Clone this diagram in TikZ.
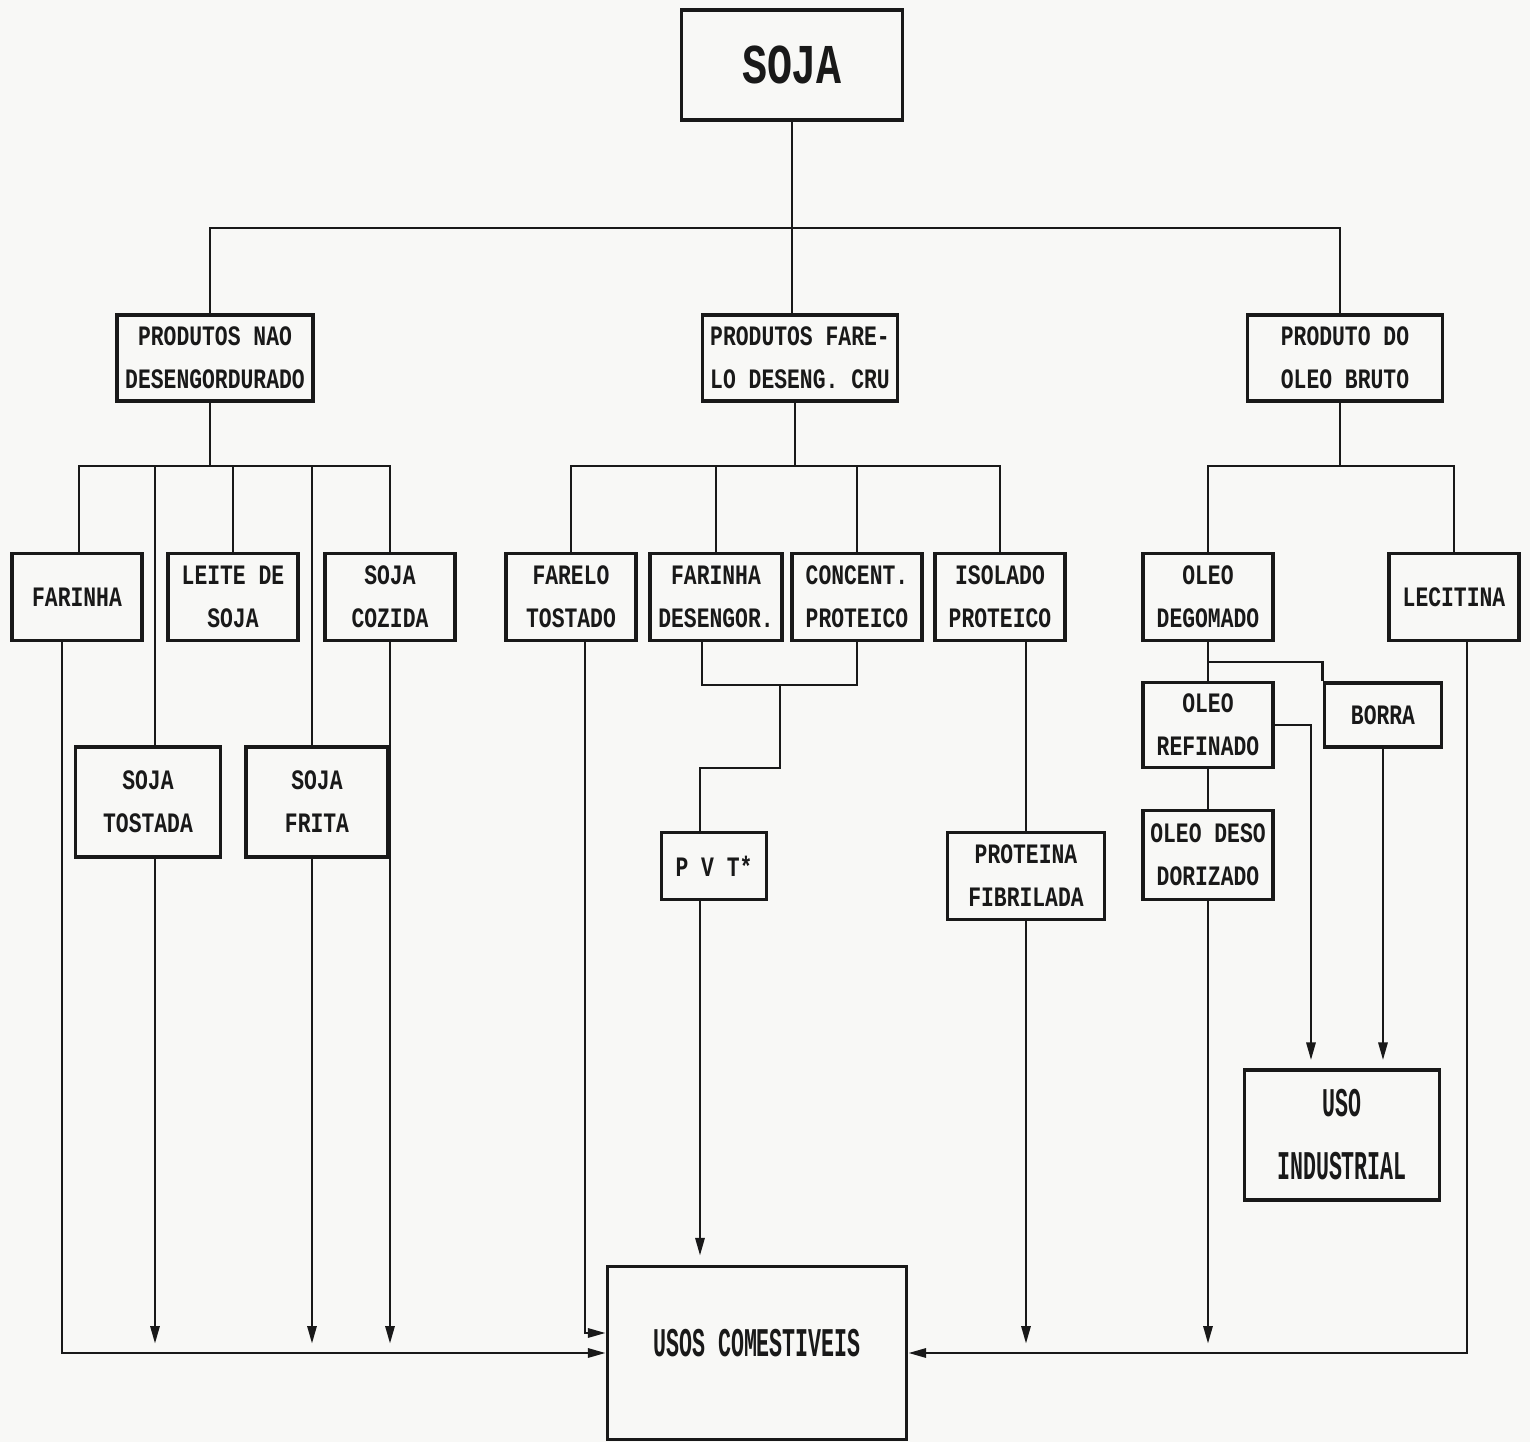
\documentclass[tikz,border=0pt]{standalone}
\usepackage{fontspec}
\newfontfamily\dotfont[FakeStretch=0.76]{Liberation Mono}
\newfontfamily\tallfont[FakeStretch=0.53]{Liberation Mono}
\newfontfamily\bigfont[FakeStretch=0.74]{Liberation Mono}
\usetikzlibrary{arrows.meta, positioning}
\definecolor{paper}{RGB}{248,248,246}
\definecolor{ink}{RGB}{25,25,25}

\begin{document}
\begin{tikzpicture}
    [
        x=0.1mm, y=-0.1mm,
        prod/.style={rectangle, draw=ink, line width=0.9pt, inner sep=0pt, minimum width=13mm, minimum height=8.7mm, align=center, text=ink, font=\dotfont\bfseries\fontsize{8pt}{12.2pt}\selectfont},
        use/.style={prod, font=\tallfont\bfseries\fontsize{11.6pt}{17.9pt}\selectfont},
        link/.style={draw=ink, line width=0.85pt},
        flow/.style={link, -{Triangle[length=1.8mm, width=0.9mm]}},
    ]
    \fill[paper] (0,0) rectangle (1530,1442);

    % top
    \node[prod, minimum width=22.1mm, minimum height=11mm, font=\bigfont\bfseries\fontsize{16pt}{18pt}\selectfont] (soja) at (792,65) {SOJA};
    \node[prod, minimum width=19.6mm, minimum height=8.6mm] (pnd) at (215,358) {PRODUTOS NAO\\DESENGORDURADO};
    \node[prod, minimum width=19.5mm, minimum height=8.6mm] (pfd) at (800,358) {PRODUTOS FARE-\\LO DESENG. CRU};
    \node[prod, minimum width=19.5mm, minimum height=8.6mm] (pob) at (1345,358) {PRODUTO DO\\OLEO BRUTO};

    % nao desengordurado
    \node[prod] (farinha) at (77,597) {FARINHA};
    \node[prod] (leite) at (233,597) {LEITE DE\\SOJA};
    \node[prod] (cozida) at (390,597) {SOJA\\COZIDA};
    \node[prod, minimum width=14.5mm, minimum height=11mm] (tostada) at (148,802) {SOJA\\TOSTADA};
    \node[prod, minimum width=14.2mm, minimum height=11mm] (frita) at (317,802) {SOJA\\FRITA};

    % farelo
    \node[prod] (farelo) at (571,597) {FARELO\\TOSTADO};
    \node[prod, minimum width=13.2mm] (farinhad) at (716,597) {FARINHA\\DESENGOR.};
    \node[prod] (concent) at (857,597) {CONCENT.\\PROTEICO};
    \node[prod] (isolado) at (1000,597) {ISOLADO\\PROTEICO};
    \node[prod, minimum width=10.5mm, minimum height=6.7mm] (pvt) at (714,866) {P V T*};
    \node[prod, minimum width=15.7mm] (fibrilada) at (1026,876) {PROTEINA\\FIBRILADA};

    % oleo bruto
    \node[prod] (degomado) at (1208,597) {OLEO\\DEGOMADO};
    \node[prod] (lecitina) at (1454,597) {LECITINA};
    \node[prod, minimum height=8.5mm] (refinado) at (1208,725) {OLEO\\REFINADO};
    \node[prod, minimum width=11.7mm, minimum height=6.4mm] (borra) at (1383,715) {BORRA};
    \node[prod, minimum height=8.9mm] (desodorizado) at (1208,855) {OLEO DESO\\DORIZADO};

    % usos
    \node[use, minimum width=19.5mm, minimum height=13mm] (industrial) at (1342,1135) {USO\\INDUSTRIAL};
    \node[use, minimum width=29.9mm, minimum height=17.3mm] (usos) at (757,1353) {\raisebox{2mm}{USOS COMESTIVEIS}};

    \coordinate (topbus) at (792,228);
    \coordinate (lbus) at (210,466);
    \coordinate (mbus) at (795,466);
    \coordinate (rbus) at (1340,466);
    \coordinate (pvtjoin) at (780,685);
    \coordinate (pvtstep) at (700,768);
    \coordinate (borrajoin) at (1208,662);
    \coordinate (endrow) at (0,1344);
    \coordinate (pvtout) at ([xshift=-1.4mm]pvt.south);
    \coordinate (tostcol) at ([xshift=0.7mm]tostada.north);
    \coordinate (fritcol) at ([xshift=-0.5mm]frita.north);

    \draw[link] (soja.south) -- (soja.south |- pfd.north);
    \draw[link] ([xshift=-0.5mm]pnd.north) |- (topbus) -| ([xshift=-0.5mm]pob.north);

    \draw[link] (lbus |- pnd.south) -- (lbus);
    \draw[link] ([xshift=0.2mm]farinha.north) |- (lbus) -| (cozida.north);
    \draw[link] (leite.north) -- (leite.north |- lbus);
    \draw[link] (tostcol) -- (tostcol |- lbus);
    \draw[link] (fritcol) -- (fritcol |- lbus);

    \draw[link] (mbus |- pfd.south) -- (mbus);
    \draw[link] (farelo.north) |- (mbus) -| (isolado.north);
    \draw[link] (farinhad.north) -- (farinhad.north |- mbus);
    \draw[link] (concent.north) -- (concent.north |- mbus);
    \draw[link] ([xshift=-1.4mm]farinhad.south) |- (pvtjoin) -| (concent.south);
    \draw[link] (pvtjoin) |- (pvtstep) -- (pvtstep |- pvt.north);
    \draw[link] (fibrilada.north |- isolado.south) -- (fibrilada.north);

    \draw[link] (rbus |- pob.south) -- (rbus);
    \draw[link] (degomado.north) |- (rbus) -| (lecitina.north);
    \draw[link] (degomado.south) -- (refinado.north);
    \draw[link] (refinado.south) -- (desodorizado.north);
    \draw[link] (borrajoin) -| (borra.north west);

    \draw[flow] (tostcol |- tostada.south) -- (tostcol |- endrow);
    \draw[flow] (fritcol |- frita.south) -- (fritcol |- endrow);
    \draw[flow] (cozida.south) -- (cozida.south |- endrow);
    \draw[flow] ([xshift=-1.5mm]farinha.south) |- (usos.west);
    \draw[flow] ([xshift=1.4mm]farelo.south) |- ([yshift=2mm]usos.west);
    \draw[flow, shorten >=0.9mm] (pvtout) -- (pvtout |- usos.north);
    \draw[flow] ([xshift=1.3mm]lecitina.south) |- (usos.east);
    \draw[flow] (fibrilada.south) -- (fibrilada.south |- endrow);
    \draw[flow] (desodorizado.south) -- (desodorizado.south |- endrow);
    \draw[flow, shorten >=0.8mm] (refinado.east) -| ([xshift=-3.1mm]industrial.north);
    \draw[flow, shorten >=0.8mm] (borra.south) -- (borra.south |- industrial.north);
\end{tikzpicture}
\end{document}
